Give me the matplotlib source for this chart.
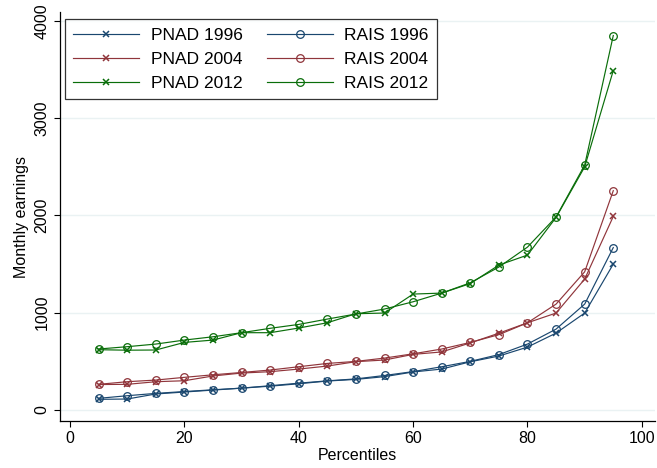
import matplotlib
matplotlib.use('Agg')
from matplotlib import pyplot as plt

pct = [5, 10, 15, 20, 25, 30, 35, 40, 45, 50, 55, 60, 65, 70, 75, 80, 85, 90, 95]

pnad_1996 = [110, 113, 165, 185, 205, 225, 245, 270, 298, 315, 343, 391, 421, 496, 555, 647, 791, 997, 1500]
rais_1996 = [120, 147, 171, 190, 208, 225, 250, 276, 300, 320, 355, 395, 445, 500, 570, 678, 832, 1089, 1670]
pnad_2004 = [262, 264, 291, 301, 350, 380, 394, 421, 452, 497, 514, 572, 597, 690, 790, 897, 997, 1346, 1990]
rais_2004 = [264, 291, 308, 336, 362, 386, 411, 445, 479, 500, 534, 578, 627, 695, 775, 897, 1089, 1421, 2255]
pnad_2012 = [620, 615, 617, 695, 719, 795, 795, 843, 897, 990, 997, 1192, 1202, 1300, 1490, 1593, 1980, 2500, 3490]
rais_2012 = [627, 651, 678, 719, 753, 795, 840, 880, 935, 987, 1038, 1113, 1202, 1308, 1470, 1675, 1985, 2518, 3850]

x_ticks = [0, 20, 40, 60, 80, 100]
y_ticks = [0, 1000, 2000, 3000, 4000]

navy = '#1a476f'
maroon = '#90353b'
green = '#0a6e0a'

plt.rcParams['font.family'] = ['Liberation Sans', 'DejaVu Sans']

fig = plt.figure(figsize=(6.57, 4.68), dpi=100)
ax = fig.add_axes([0.0913, 0.1004, 0.9057, 0.8736])

series = [
    ('PNAD 1996', pnad_1996, navy, 'x'),
    ('PNAD 2004', pnad_2004, maroon, 'x'),
    ('PNAD 2012', pnad_2012, green, 'x'),
    ('RAIS 1996', rais_1996, navy, 'o'),
    ('RAIS 2004', rais_2004, maroon, 'o'),
    ('RAIS 2012', rais_2012, green, 'o'),
]
for label, vals, col, mk in series:
    if mk == 'o':
        ax.plot(pct, vals, color=col, lw=0.85, marker='o', ms=5.5, mfc='none',
                mec=col, mew=0.9, label=label)
    else:
        ax.plot(pct, vals, color=col, lw=0.85, marker='x', ms=4.5, mew=1.1, label=label)

ax.set_xlim(-1.75, 102.3)
ax.set_ylim(-113, 4090)
ax.set_xticks(x_ticks)
ax.set_yticks(y_ticks)
ax.set_yticklabels([str(v) for v in y_ticks], rotation=90, va='center')
ax.tick_params(labelsize=11.5, length=4, width=0.8, color='black')
ax.grid(axis='y', color='#eaf2f3', lw=1.0)
ax.set_axisbelow(True)
for s in ['top', 'right']:
    ax.spines[s].set_visible(False)
for s in ['left', 'bottom']:
    ax.spines[s].set_linewidth(0.9)

ax.set_xlabel('Percentiles', fontsize=11.5, labelpad=1)
ax.set_ylabel('Monthly earnings', fontsize=11.5, labelpad=4)

leg = ax.legend(ncol=2, loc='upper left', bbox_to_anchor=(0.008, 0.983),
                fontsize=12.5, frameon=True, fancybox=False, edgecolor='black',
                handlelength=3.8, columnspacing=1.4, borderpad=0.5,
                labelspacing=0.5, handletextpad=0.65, borderaxespad=0)
leg.get_frame().set_linewidth(0.9)

fig.savefig('out.png', dpi=100)
